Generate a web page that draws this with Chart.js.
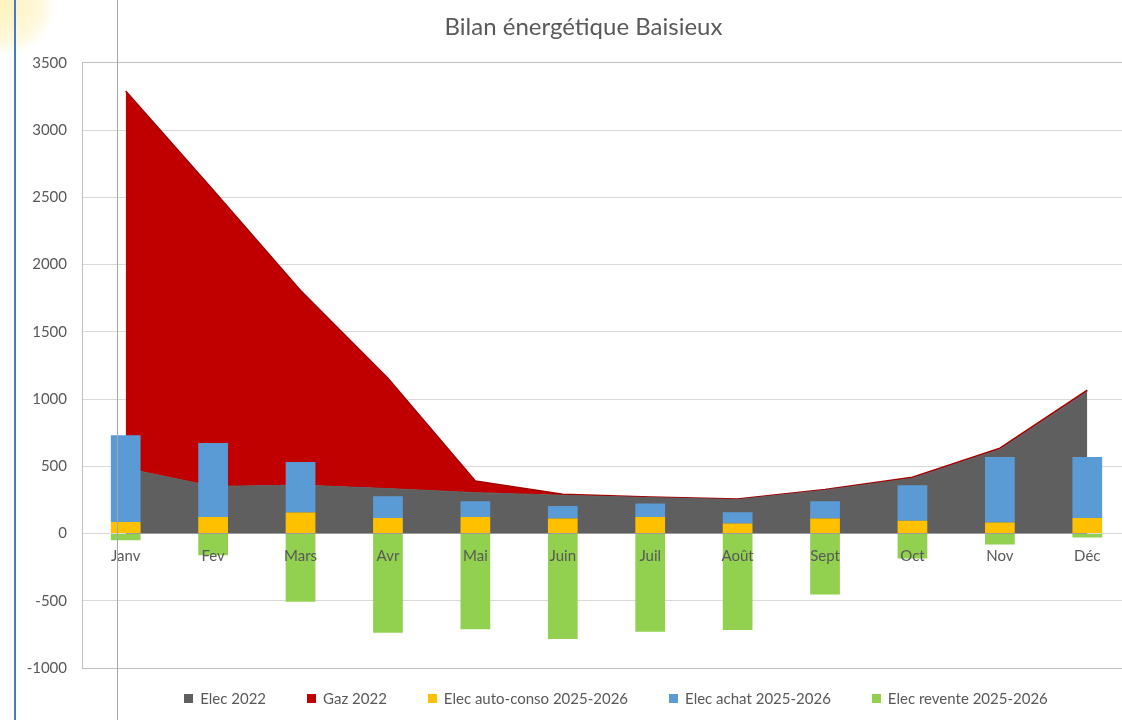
<!DOCTYPE html>
<html lang="fr">
<head>
<meta charset="utf-8">
<title>Bilan énergétique Baisieux</title>
<script src="https://cdn.jsdelivr.net/npm/chart.js@4.4.1/dist/chart.umd.min.js"></script>
<style>
    html, body { margin: 0; padding: 0; background: #fff; overflow: hidden; }
    #wrap { position: relative; width: 1122px; height: 720px; overflow: hidden; font-family: Lato, "Open Sans", sans-serif; }
    #chart { position: absolute; left: 0; top: 0; }
    .glow { position: absolute; left: -45px; top: -45px; width: 100px; height: 100px; border-radius: 50%;
            background: radial-gradient(circle, rgba(255,232,140,.55) 0%, rgba(255,238,165,.4) 50%, rgba(255,255,255,0) 72%); }
    .edge { position: absolute; left: 14px; top: 0; width: 2px; height: 720px; background: #4a78c8; }
    .cursor { position: absolute; left: 117px; top: 0; width: 1px; height: 720px; background: #a6a6a6; }
    #legend { position: absolute; left: 0; top: 688px; width: 1232px; display: flex; justify-content: center; gap: 41px;
              font-size: 15px; color: #595959; line-height: 20px; }
    #legend span.item { display: flex; align-items: center; white-space: nowrap; }
    #legend i { display: inline-block; width: 9px; height: 9px; margin-right: 7px; }
</style>
</head>
<body>
<div id="wrap">
    <div class="glow"></div>
    <canvas id="chart" width="1167" height="720"></canvas>
    <div id="legend"></div>
    <div class="edge"></div>
    <div class="cursor"></div>
</div>
<script>
// ================= DATA =================

const months = ["Janv", "Fev", "Mars", "Avr", "Mai", "Juin", "Juil", "Août", "Sept", "Oct", "Nov", "Déc"];

const elec2022 = [485, 350, 360, 334, 304, 284, 267, 252, 322, 410, 625, 1055];
const gaz2022 = [2805, 2204, 1447, 820, 87, 8, 5, 5, 6, 8, 10, 12];      // empilé au-dessus de Elec 2022
const autoConso = [86, 123, 156, 116, 123, 111, 123, 74, 111, 94, 82, 116];
const achat = [644, 550, 376, 161, 117, 94, 100, 84, 129, 265, 487, 453];
const revente = [-50, -161, -508, -738, -711, -785, -731, -718, -453, -186, -82, -30];

const yMin = -1000;
const yMax = 3500;
const yStep = 500;

const TEXT = "#595959";
const FONT = "Lato, 'Open Sans', sans-serif";

// ================= CHART =================

const datasets = [
    {
        type: "line", label: "Elec 2022", data: elec2022, stack: "conso", order: 2,
        fill: "origin", backgroundColor: "#5f5f5f", borderColor: "#5f5f5f",
        borderWidth: 1, pointRadius: 0, tension: 0,
    },
    {
        type: "line", label: "Gaz 2022", data: gaz2022, stack: "conso", order: 2,
        fill: "-1", backgroundColor: "#c00000", borderColor: "#a50000",
        borderWidth: 1.5, pointRadius: 0, tension: 0,
    },
    {
        type: "bar", label: "Elec auto-conso 2025-2026", data: autoConso, stack: "bilan", order: 1,
        backgroundColor: "#ffc000",
    },
    {
        type: "bar", label: "Elec achat 2025-2026", data: achat, stack: "bilan", order: 1,
        backgroundColor: "#5b9bd5",
    },
    {
        type: "bar", label: "Elec revente 2025-2026", data: revente, stack: "bilan", order: 1,
        backgroundColor: "#92d050",
    },
];

datasets.forEach((ds) => {
    if (ds.type === "bar") {
        ds.categoryPercentage = 0.34;
        ds.barPercentage = 1;
    }
});

new Chart(document.getElementById("chart"), {
    data: { labels: months, datasets },
    options: {
        responsive: false,
        animation: false,
        layout: { padding: { left: 0, right: 0, top: 0, bottom: 52 } },
        plugins: {
            legend: { display: false },
            tooltip: { enabled: false },
            title: {
                display: true,
                text: "Bilan énergétique Baisieux",
                color: TEXT,
                font: { family: FONT, size: 24, weight: "normal" },
                padding: { top: 13, bottom: 21 },
            },
        },
        scales: {
            x: {
                type: "category",
                position: { y: 0 },
                offset: true,
                stacked: true,
                grid: { display: false, drawTicks: false },
                border: { display: false },
                ticks: { z: 1, color: TEXT, font: { family: FONT, size: 15 }, padding: 14 },
            },
            y: {
                stacked: true,
                min: yMin,
                max: yMax,
                afterFit: (scale) => { scale.width = 82; },
                grid: {
                    drawTicks: false,
                    color: (c) => (c.tick && (c.tick.value === yMax || c.tick.value === yMin) ? "#bfbfbf" : "#d9d9d9"),
                },
                border: { display: true, color: "#bfbfbf" },
                ticks: {
                    stepSize: yStep,
                    color: TEXT,
                    font: { family: FONT, size: 15 },
                    padding: 15,
                    callback: (v) => String(v),
                },
            },
            // marge droite vide (zone coupée hors cadre)
            yRight: {
                position: "right",
                min: yMin,
                max: yMax,
                afterFit: (scale) => { scale.width = 36; },
                grid: { display: false, drawTicks: false },
                border: { display: false },
                ticks: { display: false },
            },
        },
    },
});

// ================= LEGEND =================

const legendEl = document.getElementById("legend");
datasets.forEach((ds) => {
    const item = document.createElement("span");
    item.className = "item";
    const box = document.createElement("i");
    box.style.background = ds.backgroundColor;
    item.appendChild(box);
    item.appendChild(document.createTextNode(ds.label));
    legendEl.appendChild(item);
});
</script>
</body>
</html>
